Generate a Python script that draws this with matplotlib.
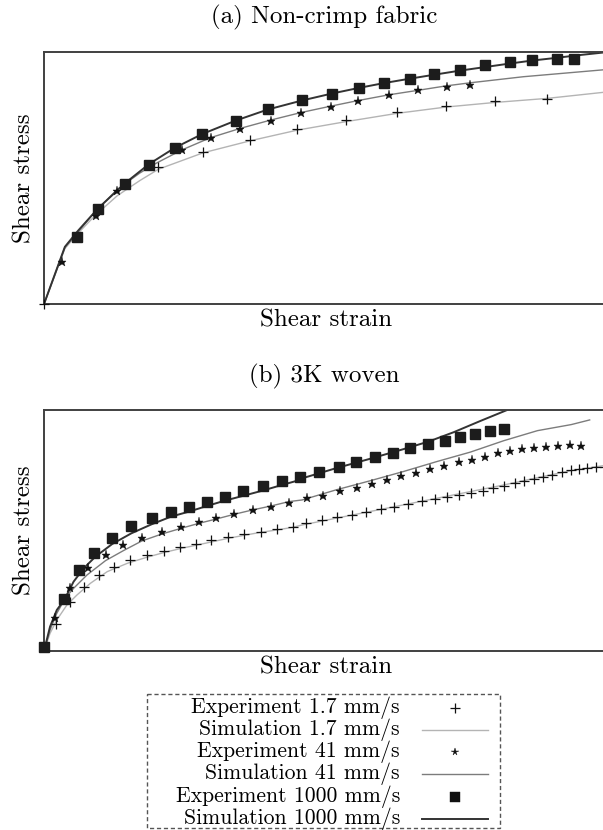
import matplotlib
matplotlib.use("Agg")
import matplotlib.pyplot as plt
from matplotlib.patches import Rectangle

plt.rcParams['font.family'] = ['cmr10', 'DejaVu Serif']
plt.rcParams['mathtext.fontset'] = 'cm'
plt.rcParams['axes.unicode_minus'] = False

# ---- (a) Non-crimp fabric: experiments (normalised strain / stress) ----
a_exp_slow_x = [0.0, 0.2026, 0.2824, 0.3660, 0.4490, 0.5359, 0.6268, 0.7137, 0.8007, 0.8922]
a_exp_slow_y = [0.0, 0.5443, 0.6037, 0.6499, 0.6949, 0.7292, 0.7609, 0.7860, 0.8046, 0.8125]
a_exp_mid_x = [0.0327, 0.0915, 0.1288, 0.2444, 0.2954, 0.3477, 0.4020, 0.4556, 0.5086,
               0.5564, 0.6118, 0.6637, 0.7143, 0.7562]
a_exp_mid_y = [0.1678, 0.3487, 0.4478, 0.6103, 0.6592, 0.6948, 0.7279, 0.7583, 0.7820,
               0.8058, 0.8284, 0.8482, 0.8613, 0.8708]
a_exp_fast_x = [0.0588, 0.0960, 0.1438, 0.1862, 0.2320, 0.2810, 0.3399, 0.3967, 0.4575, 0.5116,
                0.5581, 0.6023, 0.6488, 0.6923, 0.7383, 0.7818, 0.8265, 0.8664, 0.9093, 0.9397]
a_exp_fast_y = [0.2655, 0.3765, 0.4769, 0.5535, 0.6196, 0.6750, 0.7279, 0.7741, 0.8085, 0.8351,
                0.8573, 0.8772, 0.8944, 0.9116, 0.9302, 0.9473, 0.9604, 0.9683, 0.9737, 0.9723]

# ---- (a) simulations ----
a_sim_slow_x = [0.0, 0.037, 0.06, 0.09, 0.13, 0.17, 0.203, 0.282, 0.366, 0.449, 0.536,
                0.627, 0.714, 0.80, 0.892, 1.0]
a_sim_slow_y = [0.0, 0.22, 0.28, 0.35, 0.43, 0.49, 0.535, 0.60, 0.648, 0.69, 0.724,
                0.757, 0.782, 0.80, 0.816, 0.842]
a_sim_mid_x = [0.0, 0.037, 0.06, 0.09, 0.13, 0.17, 0.20, 0.245, 0.295, 0.348, 0.402, 0.456,
               0.508, 0.556, 0.611, 0.663, 0.714, 0.756, 0.85, 1.0]
a_sim_mid_y = [0.0, 0.225, 0.285, 0.365, 0.455, 0.52, 0.56, 0.612, 0.66, 0.697, 0.73, 0.76,
               0.785, 0.807, 0.83, 0.848, 0.866, 0.878, 0.902, 0.931]
a_sim_fast_x = [0.0, 0.037, 0.06, 0.096, 0.144, 0.186, 0.232, 0.281, 0.34, 0.397, 0.458, 0.51,
                0.557, 0.601, 0.648, 0.692, 0.737, 0.781, 0.825, 0.865, 0.909, 0.95, 1.0]
a_sim_fast_y = [0.0, 0.227, 0.29, 0.38, 0.48, 0.555, 0.62, 0.675, 0.728, 0.772, 0.808, 0.835,
                0.857, 0.876, 0.894, 0.910, 0.926, 0.940, 0.954, 0.966, 0.977, 0.988, 1.0]

# ---- (b) 3K woven: experiments ----
b_exp_slow_x = [0.0215, 0.0453, 0.0703, 0.0972, 0.1240, 0.1527, 0.1825, 0.2123, 0.2415, 0.2689,
                0.2970, 0.3268, 0.3554, 0.3846, 0.4132, 0.4413, 0.4651, 0.4937, 0.5193, 0.5456,
                0.5712, 0.5970, 0.6208, 0.6458, 0.6696, 0.6936, 0.7143, 0.7365, 0.7580, 0.7782,
                0.7966, 0.8157, 0.8349, 0.8515, 0.8682, 0.8843, 0.9011, 0.9183, 0.9338, 0.9487,
                0.9637, 0.9798, 0.9946]
b_exp_slow_y = [0.1107, 0.2047, 0.2669, 0.3154, 0.3499, 0.3776, 0.3983, 0.4163, 0.4315, 0.4440,
                0.4592, 0.4716, 0.4841, 0.4951, 0.5062, 0.5158, 0.5299, 0.5436, 0.5548, 0.5643,
                0.5755, 0.5880, 0.5988, 0.6087, 0.6224, 0.6320, 0.6403, 0.6486, 0.6569, 0.6652,
                0.6751, 0.6859, 0.6958, 0.7066, 0.7137, 0.7207, 0.7315, 0.7415, 0.7510, 0.7564,
                0.7606, 0.7635, 0.7648]
b_exp_mid_x = [0.0197, 0.0465, 0.0782, 0.1091, 0.1408, 0.1735, 0.2093, 0.2433, 0.2750, 0.3059,
               0.3376, 0.3698, 0.4030, 0.4342, 0.4669, 0.4950, 0.5254, 0.5546, 0.5820, 0.6088,
               0.6338, 0.6596, 0.6846, 0.7102, 0.7352, 0.7591, 0.7830, 0.8050, 0.8265, 0.8485,
               0.8694, 0.8903, 0.9111, 0.9332, 0.9529]
b_exp_mid_y = [0.1357, 0.2602, 0.3432, 0.3983, 0.4398, 0.4701, 0.4925, 0.5158, 0.5340, 0.5506,
               0.5672, 0.5851, 0.5988, 0.6154, 0.6336, 0.6444, 0.6652, 0.6777, 0.6929, 0.7095,
               0.7248, 0.7399, 0.7539, 0.7689, 0.7830, 0.7925, 0.8037, 0.8203, 0.8286, 0.8369,
               0.8436, 0.8477, 0.8506, 0.8560, 0.8519]
b_exp_fast_x = [0.0, 0.0358, 0.0626, 0.0894, 0.1211, 0.1551, 0.1909, 0.2254, 0.2570, 0.2892,
                0.3208, 0.3524, 0.3876, 0.4222, 0.4538, 0.4878, 0.5236, 0.5533, 0.5862, 0.6190,
                0.6500, 0.6816, 0.7114, 0.7370, 0.7639, 0.7902, 0.8157]
b_exp_fast_y = [0.0180, 0.2158, 0.3347, 0.4081, 0.4703, 0.5187, 0.5505, 0.5754, 0.5975, 0.6195,
                0.6404, 0.6625, 0.6846, 0.7054, 0.7234, 0.7441, 0.7635, 0.7856, 0.8037, 0.8230,
                0.8409, 0.8575, 0.8727, 0.8893, 0.9004, 0.9129, 0.9198]

# ---- (b) simulations ----
b_sim_slow_x = [0.0, 0.0107, 0.0227, 0.0406, 0.0585, 0.0823, 0.1122, 0.1479, 0.1825, 0.2123,
                0.2415, 0.2689, 0.2970, 0.3268, 0.3554, 0.3846, 0.4132, 0.4413, 0.4580, 0.5175,
                0.5773, 0.6369, 0.6964, 0.7561, 0.8157, 0.8753, 0.9351, 1.0]
b_sim_slow_y = [0.0, 0.0734, 0.1286, 0.1909, 0.2324, 0.2808, 0.3292, 0.3638, 0.3888, 0.4081,
                0.4246, 0.4384, 0.4523, 0.4675, 0.4800, 0.4924, 0.5021, 0.5131, 0.5228, 0.5505,
                0.5781, 0.6058, 0.6335, 0.6612, 0.6888, 0.7192, 0.7483, 0.7718]
b_sim_mid_x = [0.0, 0.0107, 0.0227, 0.0376, 0.0525, 0.0763, 0.1091, 0.1408, 0.1735, 0.2093,
               0.2433, 0.2750, 0.3059, 0.3376, 0.3698, 0.4030, 0.4342, 0.4580, 0.5175, 0.5773,
               0.6369, 0.6964, 0.7561, 0.8157, 0.8753, 0.9351, 0.9678]
b_sim_mid_y = [0.0, 0.0871, 0.1563, 0.2185, 0.2600, 0.3154, 0.3748, 0.4163, 0.4564, 0.4855,
               0.5090, 0.5297, 0.5477, 0.5672, 0.5851, 0.6017, 0.6196, 0.6266, 0.6680, 0.7054,
               0.7441, 0.7856, 0.8250, 0.8726, 0.9141, 0.9392, 0.9585]
b_sim_fast_x = [0.0, 0.0107, 0.0227, 0.0358, 0.0525, 0.0704, 0.0912, 0.1211, 0.1551, 0.1909,
                0.2254, 0.2570, 0.2892, 0.3208, 0.3524, 0.3876, 0.4222, 0.4538, 0.4580, 0.5175,
                0.5773, 0.6369, 0.6816, 0.7263, 0.7741, 0.8217]
b_sim_fast_y = [0.0, 0.1010, 0.1701, 0.2116, 0.2877, 0.3430, 0.3914, 0.4440, 0.4883, 0.5256,
                0.5574, 0.5781, 0.6017, 0.6237, 0.6432, 0.6653, 0.6888, 0.7095, 0.7164, 0.7580,
                0.7967, 0.8369, 0.8685, 0.9073, 0.9544, 1.0]

titles = ['(a) Non-crimp fabric', '(b) 3K woven']
labels = ['Experiment 1.7 mm/s', 'Simulation 1.7 mm/s',
          'Experiment 41 mm/s', 'Simulation 41 mm/s',
          'Experiment 1000 mm/s', 'Simulation 1000 mm/s']

C_SLOW = '#b4b4b4'
C_MID = '#7c7c7c'
C_FAST = '#333333'
SPINE = '#404040'
FS = 18
FS_LEG = 15.6

fig = plt.figure(figsize=(6.03, 8.30), dpi=100)
ax_a = fig.add_axes([0.073, 0.6337, 0.935, 0.3036])
ax_b = fig.add_axes([0.073, 0.2157, 0.935, 0.2904])

panels = [
    (ax_a, a_exp_slow_x, a_exp_slow_y, a_exp_mid_x, a_exp_mid_y, a_exp_fast_x, a_exp_fast_y,
     a_sim_slow_x, a_sim_slow_y, a_sim_mid_x, a_sim_mid_y, a_sim_fast_x, a_sim_fast_y),
    (ax_b, b_exp_slow_x, b_exp_slow_y, b_exp_mid_x, b_exp_mid_y, b_exp_fast_x, b_exp_fast_y,
     b_sim_slow_x, b_sim_slow_y, b_sim_mid_x, b_sim_mid_y, b_sim_fast_x, b_sim_fast_y),
]

for i, p in enumerate(panels):
    ax = p[0]
    (esx, esy, emx, emy, efx, efy, ssx, ssy, smx, smy, sfx, sfy) = p[1:]
    ax.plot(ssx, ssy, color=C_SLOW, lw=1.0, zorder=2)
    ax.plot(smx, smy, color=C_MID, lw=1.0, zorder=2)
    ax.plot(sfx, sfy, color=C_FAST, lw=1.4, zorder=2)
    ax.plot(esx, esy, ls='none', marker='+', ms=7.5, mew=0.9, color='#111111', zorder=3, clip_on=False)
    ax.plot(emx, emy, ls='none', marker='*', ms=6.5, mew=0.3, color='#111111', zorder=3, clip_on=False)
    ax.plot(efx, efy, ls='none', marker='s', ms=6.5, color='#1c1c1c', zorder=4, clip_on=False)
    ax.set_xlim(0, 1)
    ax.set_ylim(0, 1)
    ax.set_xticks([])
    ax.set_yticks([])
    for s in ['left', 'bottom', 'top']:
        ax.spines[s].set_color(SPINE)
        ax.spines[s].set_linewidth(1.4)
    ax.spines['right'].set_visible(False)
    ax.set_xlabel('Shear strain', fontsize=FS, labelpad=4)
    ax.set_ylabel('Shear stress', fontsize=FS, labelpad=6)

# titles centred over the visible plot area
fig.text(0.537, 0.979, titles[0], fontsize=FS, ha='center', va='center')
fig.text(0.537, 0.546, titles[1], fontsize=FS, ha='center', va='center')

# legend drawn by hand: labels right aligned, samples to the right
leg = fig.add_axes([0.0, 0.0, 1.0, 1.0])
leg.set_xlim(0, 603)
leg.set_ylim(830, 0)
leg.axis('off')
leg.add_patch(Rectangle((147, 694), 353, 134, fill=False, ls=(0, (3, 2)), lw=1.0, ec='#555555'))
row_base = [712.5, 734.8, 757.1, 779.4, 801.7, 824.0]
styles = [('+', None), (None, C_SLOW), ('*', None), (None, C_MID), ('s', None), (None, C_FAST)]
for yb, lab, (mk, lc) in zip(row_base, labels, styles):
    leg.text(400, yb, lab, fontsize=FS_LEG, ha='right', va='baseline')
    y = yb - 5
    if mk is not None:
        ms = {'+': 7, '*': 5.5, 's': 6.5}[mk]
        leg.plot([455], [y], ls='none', marker=mk, ms=ms, mew=0.9 if mk == '+' else 0.3, color='#111111')
    else:
        leg.plot([422, 488], [y, y], color=lc, lw=1.4 if lc == C_FAST else 1.0)

fig.savefig('out.png', dpi=100)
